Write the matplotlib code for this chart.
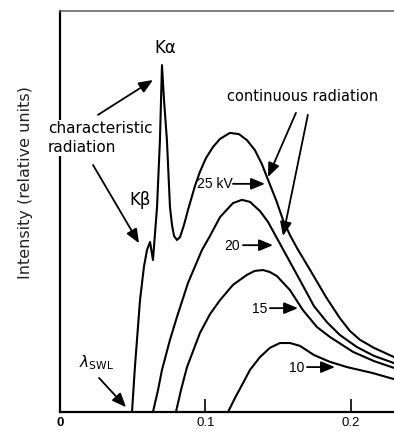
import matplotlib
matplotlib.use("Agg")
import matplotlib.pyplot as plt

# ---- data (wavelength in nm, intensity relative) ----
x25 = [0.0495, 0.0515, 0.0550, 0.0577, 0.0598, 0.0619, 0.0639, 0.0667, 0.0687, 0.0701,
       0.0715, 0.0735, 0.0756, 0.0770, 0.0784, 0.0804, 0.0825, 0.0852, 0.0880, 0.0928,
       0.0962, 0.1003, 0.1052, 0.1100, 0.1168, 0.1230, 0.1285, 0.1340, 0.1388, 0.1430,
       0.1485, 0.1533, 0.1581, 0.1629, 0.1739, 0.1828, 0.1924, 0.1993, 0.2062, 0.2158,
       0.2296]
y25 = [0.000, 0.112, 0.279, 0.362, 0.404, 0.424, 0.379, 0.511, 0.678, 0.865,
       0.778, 0.678, 0.511, 0.466, 0.439, 0.429, 0.436, 0.466, 0.504, 0.564,
       0.599, 0.633, 0.661, 0.681, 0.696, 0.693, 0.678, 0.653, 0.618, 0.579,
       0.529, 0.479, 0.441, 0.409, 0.342, 0.287, 0.234, 0.202, 0.180, 0.160,
       0.137]

x20 = [0.0639, 0.0674, 0.0701, 0.0756, 0.0804, 0.0880, 0.0976, 0.1031, 0.1100, 0.1189,
       0.1251, 0.1306, 0.1375, 0.1430, 0.1498, 0.1581, 0.1649, 0.1746, 0.1835, 0.1924,
       0.2041, 0.2158, 0.2296]
y20 = [0.000, 0.055, 0.105, 0.180, 0.237, 0.322, 0.404, 0.439, 0.486, 0.521,
       0.529, 0.524, 0.501, 0.474, 0.429, 0.374, 0.329, 0.264, 0.224, 0.192,
       0.162, 0.140, 0.122]

x15 = [0.0797, 0.0832, 0.0873, 0.0962, 0.1031, 0.1100, 0.1189, 0.1285, 0.1340, 0.1395,
       0.1443, 0.1491, 0.1581, 0.1670, 0.1766, 0.1856, 0.2014, 0.2158, 0.2296]
y15 = [0.000, 0.055, 0.112, 0.197, 0.244, 0.279, 0.317, 0.342, 0.352, 0.354,
       0.349, 0.339, 0.304, 0.254, 0.212, 0.187, 0.150, 0.127, 0.110]

x10 = [0.1155, 0.1203, 0.1258, 0.1306, 0.1375, 0.1443, 0.1512, 0.1581, 0.1649, 0.1746,
       0.1856, 0.1973, 0.2151, 0.2296]
y10 = [0.000, 0.035, 0.072, 0.105, 0.137, 0.160, 0.172, 0.172, 0.165, 0.142,
       0.125, 0.112, 0.097, 0.082]

xticks = [0, 0.1, 0.2]
xticklabels = ["0", "0.1", "0.2"]
voltage_labels = ["25 kV", "20", "15", "10"]

# ---- figure ----
W, H = 394, 432
fig = plt.figure(figsize=(W / 100, H / 100), dpi=100)
ax = fig.add_axes([60 / W, 20 / H, 1 - 60 / W, (412 - 11) / H])
ax.set_xlim(0, 0.2296)
ax.set_ylim(0, 1.0)

for xs, ys in [(x25, y25), (x20, y20), (x15, y15), (x10, y10)]:
    ax.plot(xs, ys, color="black", lw=1.5, zorder=4)

for s in ["left", "bottom"]:
    ax.spines[s].set_linewidth(1.6)
ax.spines["top"].set_linewidth(1.2)
ax.spines["top"].set_color("#666666")
ax.spines["right"].set_visible(False)

ax.set_xticks(xticks)
ax.set_xticklabels(xticklabels, fontfamily="Liberation Sans", fontsize=9.5)
ax.get_xticklabels()[0].set_fontweight("bold")
ax.set_yticks([])
ax.tick_params(axis="x", direction="in", length=9.5, width=1.2, pad=3.5)
ax.xaxis.get_major_ticks()[0].tick1line.set_visible(False)

fig.text(26 / W, 1 - 183 / H, "Intensity (relative units)", rotation=90,
         ha="center", va="center", fontsize=11.5, color="#222222")

fs = 11
arrow = dict(arrowstyle="-|>,head_length=0.6,head_width=0.25", color="black",
             lw=1.3, mutation_scale=14, shrinkA=0, shrinkB=0)

ax.text(0.0722, 0.908, "Kα", ha="center", va="center", fontsize=12)
ax.text(0.0550, 0.529, "Kβ", ha="center", va="center", fontsize=12)
ax.text(-0.0082, 0.683, "characteristic\nradiation", ha="left", va="center",
        fontsize=fs, linespacing=1.35, zorder=3, clip_on=False,
        bbox=dict(facecolor="white", edgecolor="none", pad=0.5))
ax.annotate("", xy=(0.0639, 0.828), xytext=(0.0261, 0.741), arrowprops=arrow, zorder=5)
ax.annotate("", xy=(0.0543, 0.421), xytext=(0.0227, 0.616), arrowprops=arrow, zorder=5)

ax.text(0.0247, 0.122, r"$\lambda_{\mathrm{SWL}}$", ha="center", va="center", fontsize=11)
ax.annotate("", xy=(0.0454, 0.012), xytext=(0.0268, 0.085), arrowprops=arrow, zorder=5)

ax.text(0.167, 0.788, "continuous radiation", ha="center", va="center", fontsize=10.5)
ax.annotate("", xy=(0.1430, 0.586), xytext=(0.1622, 0.746), arrowprops=arrow, zorder=5)
ax.annotate("", xy=(0.1533, 0.439), xytext=(0.1704, 0.741), arrowprops=arrow, zorder=5)

lab_pos = [(0.1065, 0.569), (0.1182, 0.414), (0.1375, 0.257), (0.1629, 0.110)]
arr_pos = [((0.1189, 0.569), (0.1409, 0.569)),
           ((0.1258, 0.416), (0.1464, 0.416)),
           ((0.1443, 0.259), (0.1636, 0.259)),
           ((0.1698, 0.112), (0.1890, 0.112))]
for lab, (tx, ty), (a0, a1) in zip(voltage_labels, lab_pos, arr_pos):
    ax.text(tx, ty, lab, ha="center", va="center", fontsize=10,
            fontfamily="Liberation Sans")
    ax.annotate("", xy=a1, xytext=a0, arrowprops=arrow, zorder=5)

fig.savefig("out.png", dpi=100)
